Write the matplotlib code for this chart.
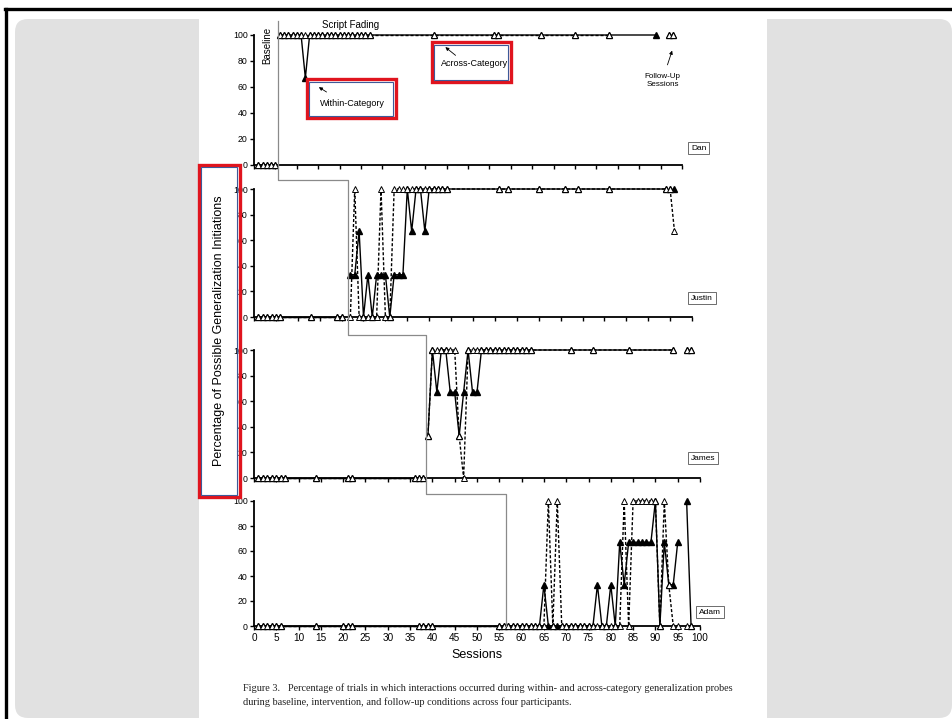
import matplotlib
matplotlib.use("Agg")
import matplotlib.pyplot as plt
from matplotlib.patches import FancyBboxPatch, Rectangle
from matplotlib.lines import Line2D

plt.rcParams['font.family'] = ['Liberation Sans', 'DejaVu Sans']

W, H = 953, 719

# ---------------- data ----------------
participants = ["Dan", "Justin", "James", "Adam"]
phase_change = [5.5, 21.5, 38.5, 56.5]
x_ticks = [0, 5, 10, 15, 20, 25, 30, 35, 40, 45, 50, 55, 60, 65, 70, 75, 80, 85, 90, 95, 100]
y_ticks = [0, 20, 40, 60, 80, 100]

# Dan
dan_base = [1, 2, 3, 4, 5]
dan_base_within = [0, 0, 0, 0, 0]
dan_base_across = [0, 0, 0, 0, 0]
dan_int = [6, 7, 8, 9, 10, 11, 12, 13, 14, 15, 16, 17, 18, 19, 20, 21, 22, 23, 24, 25, 26, 27,
           42, 56, 57, 67, 75, 83, 94]
dan_int_within = [100, 100, 100, 100, 100, 100, 67, 100, 100, 100, 100, 100, 100, 100, 100, 100,
                  100, 100, 100, 100, 100, 100, 100, 100, 100, 100, 100, 100, 100]
dan_int_across_s = [6, 7, 8, 9, 10, 11, 12, 13, 14, 15, 16, 17, 18, 19, 20, 21, 22, 23, 24, 25,
                    26, 27, 42, 56, 57, 67, 75, 83]
dan_int_across = [100, 100, 100, 100, 100, 100, 100, 100, 100, 100, 100, 100, 100, 100, 100, 100,
                  100, 100, 100, 100, 100, 100, 100, 100, 100, 100, 100, 100]
dan_fu = [97, 98]
dan_fu_within = [100, 100]
dan_fu_across = [100, 100]

# Justin
justin_base = [1, 2, 3, 4, 5, 6, 13, 19, 20]
justin_base_within = [0, 0, 0, 0, 0, 0, 0, 0, 0]
justin_base_across = [0, 0, 0, 0, 0, 0, 0, 0, 0]
justin_int = [22, 23, 24, 25, 26, 27, 28, 29, 30, 31, 32, 33, 34, 35, 36, 37, 38, 39, 40, 41, 42,
              43, 44, 56, 58, 65, 71, 74, 81, 94]
justin_int_within = [33, 33, 67, 0, 33, 0, 33, 33, 33, 0, 33, 33, 33, 100, 67, 100, 100, 67, 100,
                     100, 100, 100, 100, 100, 100, 100, 100, 100, 100, 100]
justin_int_across_s = justin_int
justin_int_across = [0, 100, 0, 0, 0, 0, 0, 100, 0, 0, 100, 100, 100, 100, 100, 100, 100, 100, 100,
                     100, 100, 100, 100, 100, 100, 100, 100, 100, 100, 100]
justin_fu = [95, 96]
justin_fu_within = [100, 100]
justin_fu_across = [100, 67]

# James
james_base = [1, 2, 3, 4, 5, 6, 7, 14, 21, 22, 36, 37, 38]
james_base_within = [0, 0, 0, 0, 0, 0, 0, 0, 0, 0, 0, 0, 0]
james_base_across = [0, 0, 0, 0, 0, 0, 0, 0, 0, 0, 0, 0, 0]
james_int = [39, 40, 41, 42, 43, 44, 45, 46, 47, 48, 49, 50, 51, 52, 53, 54, 55, 56, 57, 58, 59,
             60, 61, 62, 71, 76, 84, 94]
james_int_within = [33, 100, 67, 100, 100, 67, 67, 33, 67, 100, 67, 67, 100, 100, 100, 100, 100,
                    100, 100, 100, 100, 100, 100, 100, 100, 100, 100, 100]
james_int_across_s = james_int
james_int_across = [33, 100, 100, 100, 100, 100, 100, 33, 0, 100, 100, 100, 100, 100, 100, 100,
                    100, 100, 100, 100, 100, 100, 100, 100, 100, 100, 100, 100]
james_fu = [97, 98]
james_fu_within = [100, 100]
james_fu_across = [100, 100]

# Adam
adam_base = [1, 2, 3, 4, 5, 6, 14, 20, 21, 22, 37, 38, 39, 40, 55, 56]
adam_base_within = [0, 0, 0, 0, 0, 0, 0, 0, 0, 0, 0, 0, 0, 0, 0, 0]
adam_base_across = [0, 0, 0, 0, 0, 0, 0, 0, 0, 0, 0, 0, 0, 0, 0, 0]
adam_int = [57, 58, 59, 60, 61, 62, 63, 64, 65, 66, 67, 68, 69, 70, 71, 72, 73, 74, 75, 76, 77,
            78, 79, 80, 81, 82, 83, 84, 85, 86, 87, 88, 89, 90, 91, 92, 93, 94, 95]
adam_int_within = [0, 0, 0, 0, 0, 0, 0, 0, 33, 0, 0, 0, 0, 0, 0, 0, 0, 0, 0, 0, 33,
                   0, 0, 33, 0, 67, 33, 67, 67, 67, 67, 67, 67, 100, 0, 67, 33, 33, 67]
adam_int_across_s = adam_int
adam_int_across = [0, 0, 0, 0, 0, 0, 0, 0, 0, 100, 0, 100, 0, 0, 0, 0, 0, 0, 0, 0, 0,
                   0, 0, 0, 0, 0, 100, 0, 100, 100, 100, 100, 100, 100, 0, 100, 33, 0, 0]
adam_fu = [97, 98]
adam_fu_within = [100, 0]
adam_fu_across = [0, 0]

panels = [
    (dan_base, dan_base_within, dan_base_across, dan_int, dan_int_within, dan_int_across_s,
     dan_int_across, dan_fu, dan_fu_within, dan_fu_across),
    (justin_base, justin_base_within, justin_base_across, justin_int, justin_int_within,
     justin_int_across_s, justin_int_across, justin_fu, justin_fu_within, justin_fu_across),
    (james_base, james_base_within, james_base_across, james_int, james_int_within,
     james_int_across_s, james_int_across, james_fu, james_fu_within, james_fu_across),
    (adam_base, adam_base_within, adam_base_across, adam_int, adam_int_within,
     adam_int_across_s, adam_int_across, adam_fu, adam_fu_within, adam_fu_across),
]

# pixel frames of each panel: x at 0, x at 100, y at 100, y at 0
frames = [(254, 682, 35, 165), (254, 692, 189, 317), (254, 700, 350, 478), (254, 700, 501, 626)]
# name tag positions (left edge, vertical centre) in pixels
name_pos = [(691, 148), (691, 298), (691, 458), (699, 612)]
# height the phase line reaches above each panel (in that panel's units)
phase_top = [111, 107, 112, 106]


def fx(x):
    return x / W


def fy(y):
    return 1 - y / H


fig = plt.figure(figsize=(W / 100, H / 100), dpi=100)
fig.patch.set_facecolor('white')

# slide background
fig.add_artist(FancyBboxPatch((fx(15), fy(718)), fx(952) - fx(15), fy(19) - fy(718),
                              boxstyle="round,pad=0,rounding_size=%f" % (13 / W),
                              mutation_aspect=W / H, transform=fig.transFigure,
                              facecolor='#e1e1e1', edgecolor='none', zorder=0))
fig.add_artist(Rectangle((fx(199), 0), fx(767) - fx(199), fy(19), transform=fig.transFigure,
                         facecolor='white', edgecolor='none', zorder=0))
fig.add_artist(Line2D([fx(5), 1], [fy(9), fy(9)], color='black', lw=2.4, zorder=5))
fig.add_artist(Line2D([fx(6), fx(6)], [fy(9), 0], color='black', lw=2.4, zorder=5))

within_kw = dict(color='black', lw=1.0, marker='^', ms=4.2, mfc='black', mec='black',
                 clip_on=False, zorder=3)
across_kw = dict(color='black', lw=1.0, ls=(0, (2.2, 1.4)), marker='^', ms=4.2, mfc='white',
                 mec='black', mew=0.7, clip_on=False, zorder=4)

axes = []
for i, (frame, data) in enumerate(zip(frames, panels)):
    x0, x1, ytop, ybot = frame
    ax = fig.add_axes([fx(x0), fy(ybot), (x1 - x0) / W, (ybot - ytop) / H])
    ax.set_xlim(0, 100)
    ax.set_ylim(0, 100)
    ax.patch.set_alpha(0)
    for s in ('top', 'right'):
        ax.spines[s].set_visible(False)
    for s in ('left', 'bottom'):
        ax.spines[s].set_linewidth(1.3)
    ax.set_xticks(x_ticks)
    ax.set_yticks(y_ticks)
    ax.tick_params(axis='both', direction='out', length=3, width=1.0, labelsize=6.3, pad=1.5)
    if i < 3:
        ax.set_xticklabels([])
    else:
        ax.tick_params(axis='x', labelsize=7.2, pad=2)

    (base, bw, ba, ints, iw, ias, ia, fu, fw, fa) = data
    ax.plot(base, bw, **within_kw)
    ax.plot(base, ba, **across_kw)
    ax.plot(ints, iw, **within_kw)
    ax.plot(ias, ia, **across_kw)
    ax.plot(fu, fw, **within_kw)
    ax.plot(fu, fa, **across_kw)

    nx, ny = name_pos[i]
    fig.text(fx(nx), fy(ny), participants[i], fontsize=6, ha='left', va='center',
             bbox=dict(boxstyle='square,pad=0.35', fc='white', ec='#555555', lw=0.6))
    axes.append(ax)

axes[3].set_xlabel("Sessions", fontsize=9, labelpad=4)

# phase change line running down through all four panels
to_fig = fig.transFigure.inverted()
pts = []
for i, ax in enumerate(axes):
    top = ax.transData.transform((phase_change[i], phase_top[i]))
    if pts:
        pts.append((pts[-1][0], top[1]))
    pts.append(tuple(top))
    pts.append(tuple(ax.transData.transform((phase_change[i], 0))))
fpts = to_fig.transform(pts)
fig.add_artist(Line2D(fpts[:, 0], fpts[:, 1], color='#8a8a8a', lw=0.9, zorder=2))

# phase and series annotations on the top panel
ax0 = axes[0]
ax0.text(3.2, 92, "Baseline", rotation=90, fontsize=7, ha='center', va='center')
ax0.text(22.5, 108, "Script Fading", fontsize=7, ha='center', va='center')
ax0.text(23, 47, "Within-Category", fontsize=6.5, ha='center', va='center')
ax0.annotate("", xy=(14.6, 61), xytext=(17.5, 55),
             arrowprops=dict(arrowstyle='-|>', lw=0.6, color='black', mutation_scale=5))
ax0.text(51.5, 78, "Across-Category", fontsize=6.5, ha='center', va='center')
ax0.annotate("", xy=(44.2, 92), xytext=(47.6, 83),
             arrowprops=dict(arrowstyle='-|>', lw=0.6, color='black', mutation_scale=5))
ax0.text(95.5, 65, "Follow-Up\nSessions", fontsize=5.8, ha='center', va='center',
         linespacing=1.1)
ax0.annotate("", xy=(97.9, 90), xytext=(96.4, 75),
             arrowprops=dict(arrowstyle='-|>', lw=0.6, color='black', mutation_scale=5))

fig.text(fx(219), fy(331), "Percentage of Possible Generalization Initiations", rotation=90,
         fontsize=9, ha='center', va='center')


# highlight frames (red outline with blue inner edge)
def highlight(x0, y0, x1, y1):
    fig.add_artist(Rectangle((fx(x0), fy(y1)), fx(x1) - fx(x0), fy(y0) - fy(y1),
                             transform=fig.transFigure, fill=False, ec='#e0141e', lw=2.4,
                             zorder=6))
    fig.add_artist(Rectangle((fx(x0 + 2.5), fy(y1 - 2.5)), fx(x1 - 2.5) - fx(x0 + 2.5),
                             fy(y0 + 2.5) - fy(y1 - 2.5), transform=fig.transFigure,
                             fill=False, ec='#3d5a99', lw=0.8, zorder=6))


highlight(199, 165, 240, 497)
highlight(307, 79, 396, 118)
highlight(432, 42, 511, 82)

fig.text(fx(243), fy(688), "Figure 3.   Percentage of trials in which interactions occurred during "
         "within- and across-category generalization probes", family='Liberation Serif',
         fontsize=7.4, ha='left', va='center', color='#222222')
fig.text(fx(243), fy(702), "during baseline, intervention, and follow-up conditions across four "
         "participants.", family='Liberation Serif', fontsize=7.4, ha='left', va='center',
         color='#222222')

fig.savefig("out.png", dpi=100)
